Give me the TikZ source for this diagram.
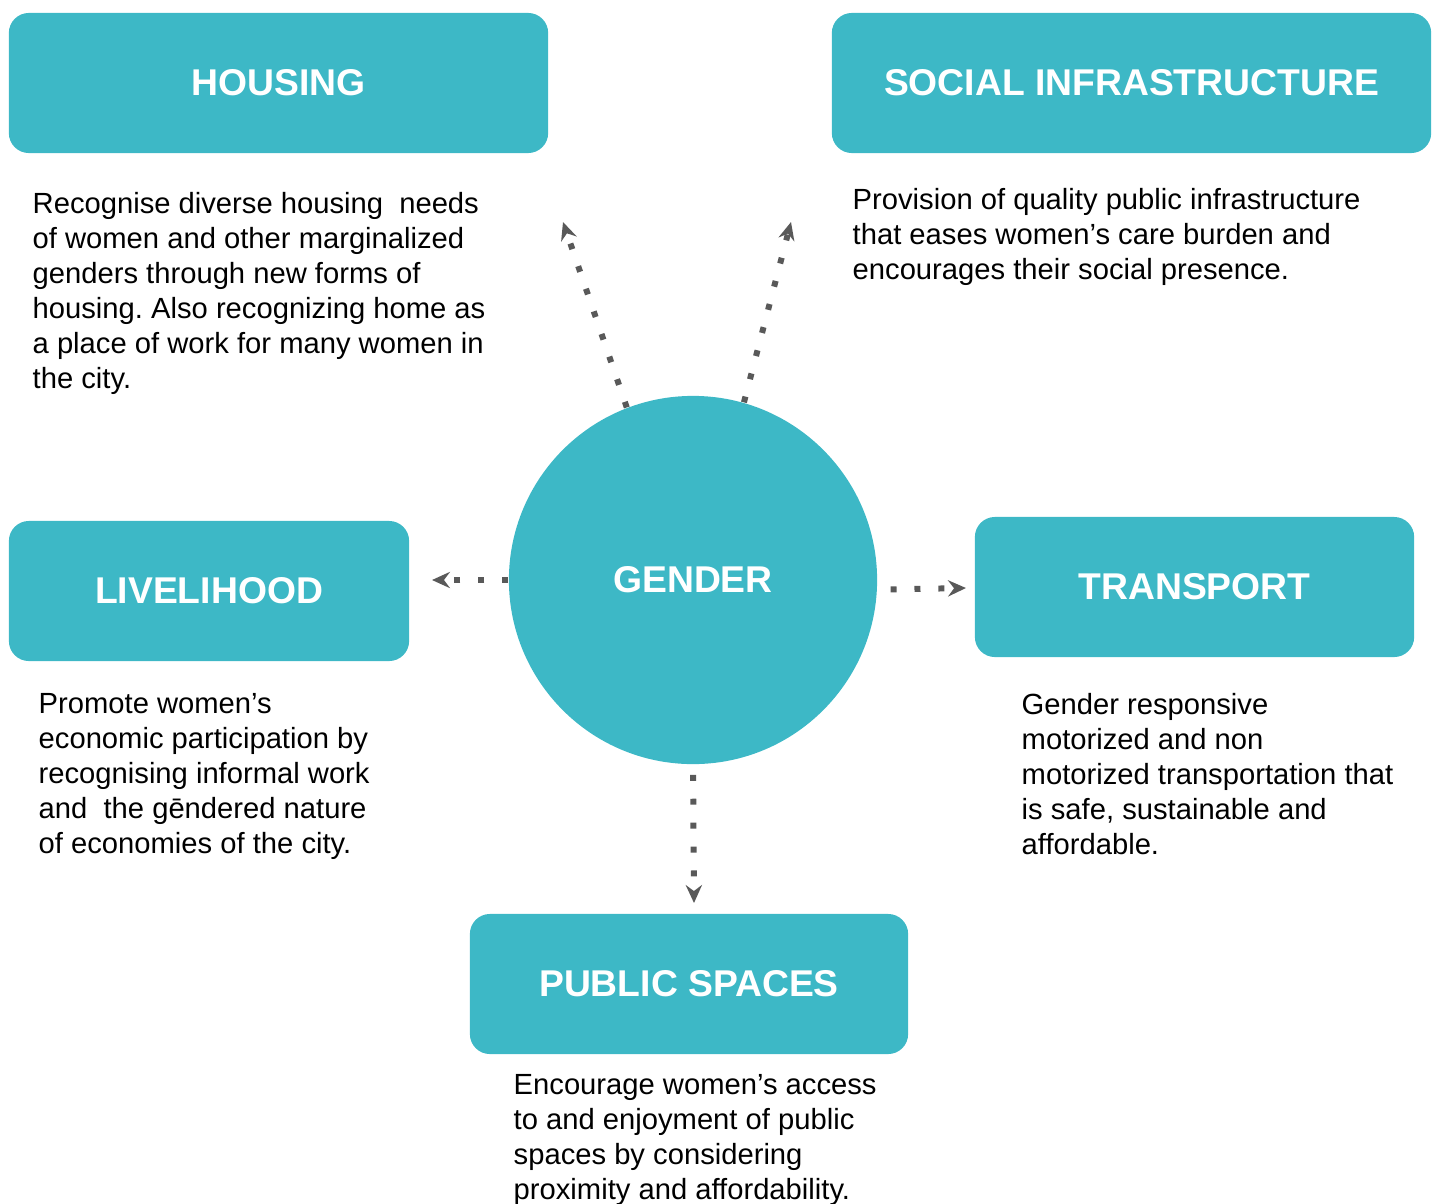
\documentclass[tikz,border=0pt]{standalone}
\usepackage{fontspec}
\setmainfont{Liberation Sans}
\usetikzlibrary{arrows.meta}
\frenchspacing

\definecolor{boxteal}{HTML}{3DB8C6}
\definecolor{arrowgrey}{HTML}{595959}

\begin{document}
\begin{tikzpicture}[x=0.01cm, y=-0.01cm,
  topic/.style={fill=boxteal, rounded corners=0.2cm, text=white, inner sep=0,
    font=\fontsize{10.6}{12}\selectfont\bfseries},
  blurb/.style={anchor=north west, align=left, inner sep=0,
    font=\fontsize{8.3}{9.96}\selectfont},
  flow/.style={arrowgrey, line width=1.7pt, dash pattern=on 1.7pt off 5.1pt,
    -{Stealth[length=5.1pt, width=4.6pt, inset=1.7pt]}}]

\useasboundingbox (0,0) rectangle (1437,1203);

% centre circle
\node (gender) [topic, circle, minimum size=3.68cm] at (693,580) {GENDER};

% the five topic boxes
\node (housing) [topic, minimum width=5.39cm, minimum height=1.4cm] at (278.5,83) {HOUSING};
\node (social) [topic, minimum width=5.99cm, minimum height=1.4cm] at (1131.5,83) {SOCIAL INFRASTRUCTURE};
\node (livelihood) [topic, minimum width=4.0cm, minimum height=1.4cm] at (209,591) {LIVELIHOOD};
\node (transport) [topic, minimum width=4.39cm, minimum height=1.4cm] at (1194.5,587) {TRANSPORT};
\node (public) [topic, minimum width=4.38cm, minimum height=1.4cm] at (689,984) {PUBLIC SPACES};

% text under each box
\node (housingtext) [blurb] at (32,192) {Recognise diverse housing\ \ needs\\of women and other marginalized\\genders through new forms of\\housing. Also recognizing home as\\a place of work for many women in\\the city.};
\node (socialtext) [blurb] at (852,188) {Provision of quality public infrastructure\\that eases women’s care burden and\\encourages their social presence.};
\node (livelihoodtext) [blurb] at (38,693) {Promote women’s\\economic participation by\\recognising informal work\\and\ \ the gēndered nature\\of economies of the city.};
\node (transporttext) [blurb] at (1021,693) {Gender responsive\\motorized and non\\motorized transportation that\\is safe, sustainable and\\affordable.};
\node (publictext) [blurb] at (513,1074) {Encourage women’s access\\to and enjoyment of public\\spaces by considering\\proximity and affordability.};

% arrow ends
\coordinate (hs-tip) at (563,222);
\coordinate (si-tip) at (791,222);
\coordinate (lv-tip) at (432,580);
\coordinate (tr-tip) at (966,588);
\coordinate (ps-tip) at (694,903);

\draw [flow] (gender.111) -- (hs-tip);
\draw [flow] (gender.74) -- (si-tip);
\draw [flow] (gender.west) -- (lv-tip);
\draw [flow, shorten <=0.13cm] (gender.-3) -- (tr-tip);
\draw [flow, shorten <=0.1cm] (gender.south) -- (ps-tip);

\end{tikzpicture}
\end{document}
